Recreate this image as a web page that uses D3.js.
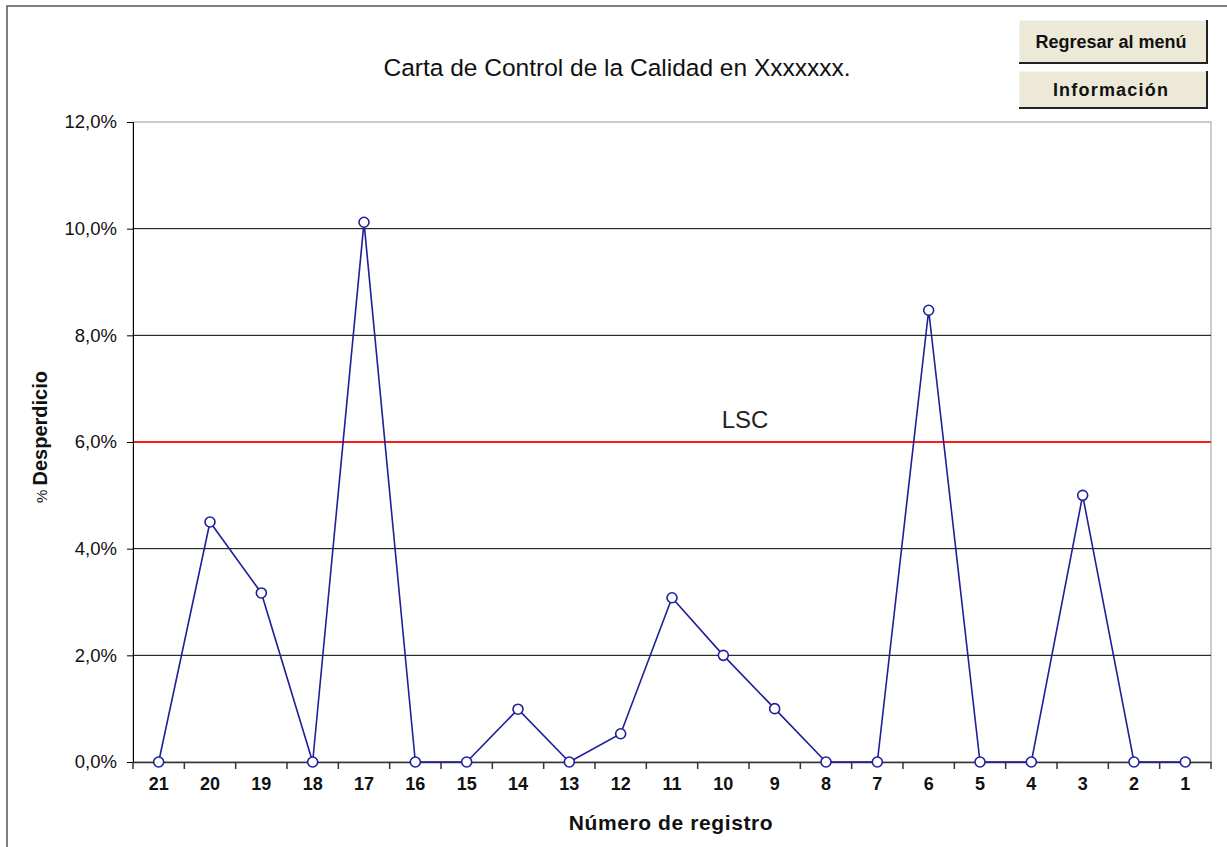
<!DOCTYPE html>
<html>
<head>
<meta charset="utf-8">
<script src="https://cdn.jsdelivr.net/npm/d3@7"></script>
<style>
  body { margin: 0; background: #fff; }
  svg { font-family: Arial, "Liberation Sans", sans-serif; }
</style>
</head>
<body>
<svg id="chart" width="1227" height="847"></svg>
<script>
// ----- DATA -----
var registros = ["21","20","19","18","17","16","15","14","13","12","11","10","9","8","7","6","5","4","3","2","1"];
var desperdicio = [0, 4.5, 3.17, 0, 10.12, 0, 0, 0.99, 0, 0.53, 3.08, 2.0, 1.0, 0, 0, 8.47, 0, 0, 5.0, 0, 0];
var yTicks = [0, 2, 4, 6, 8, 10, 12];
var lsc = 6;

var svg = d3.select("#chart");
var plotLeft = 133, plotRight = 1211, plotTop = 122, plotBottom = 762;

// outer frame
svg.append("rect")
    .attr("x", 7).attr("y", 6)
    .attr("width", 1240).attr("height", 860)
    .attr("fill", "none")
    .attr("stroke", "#555")
    .attr("stroke-width", 1.5);

var x = d3.scaleBand().domain(registros).range([plotLeft, plotRight]);
var y = d3.scaleLinear().domain([0, 12]).range([plotBottom, plotTop]);

// plot border (gray top/right)
svg.append("rect")
    .attr("x", plotLeft).attr("y", plotTop)
    .attr("width", plotRight - plotLeft).attr("height", plotBottom - plotTop)
    .attr("fill", "none")
    .attr("stroke", "#999")
    .attr("stroke-width", 1);

// gridlines
svg.append("g").selectAll("line")
    .data(yTicks.filter(function(d) { return d > 0 && d < 12 && d != lsc; }))
    .join("line")
    .attr("x1", plotLeft).attr("x2", plotRight)
    .attr("y1", function(d) { return y(d); })
    .attr("y2", function(d) { return y(d); })
    .attr("stroke", "#000")
    .attr("stroke-width", 1);

// LSC line
svg.append("line")
    .attr("x1", plotLeft).attr("x2", plotRight)
    .attr("y1", y(lsc)).attr("y2", y(lsc))
    .attr("stroke", "#ff1a1a")
    .attr("stroke-width", 2.2);

svg.append("text")
    .attr("x", 745).attr("y", y(lsc) - 14)
    .attr("text-anchor", "middle")
    .attr("font-size", 24)
    .attr("fill", "#222")
    .text("LSC");

// y axis
var yAxis = d3.axisLeft(y)
    .tickValues(yTicks)
    .tickSize(6)
    .tickPadding(10)
    .tickFormat(function(d) { return d.toFixed(1).replace(".", ",") + "%"; });
var gy = svg.append("g").attr("transform", "translate(" + plotLeft + ",0)").call(yAxis);
gy.select(".domain").attr("stroke", "#000");
gy.selectAll(".tick line").attr("stroke", "#000");
gy.selectAll("text")
    .attr("font-size", 18.5)
    .attr("font-family", "Arial, 'Liberation Sans', sans-serif")
    .attr("fill", "#111");

// x axis
var xAxis = d3.axisBottom(x).tickSize(0).tickPadding(15);
var gx = svg.append("g").attr("transform", "translate(0," + plotBottom + ")").call(xAxis);
gx.select(".domain").attr("stroke", "#333").attr("stroke-width", 1.5);
gx.selectAll("text")
    .attr("font-size", 18)
    .attr("font-weight", "bold")
    .attr("font-family", "Arial, 'Liberation Sans', sans-serif")
    .attr("fill", "#111");
// tick marks between categories
var edges = registros.map(function(r) { return x(r); }).concat([plotRight]);
gx.append("g").selectAll("line")
    .data(edges)
    .join("line")
    .attr("x1", function(d) { return d; }).attr("x2", function(d) { return d; })
    .attr("y1", 0).attr("y2", 7)
    .attr("stroke", "#333")
    .attr("stroke-width", 1.5);

// series
var pts = registros.map(function(r, i) { return { r: r, v: desperdicio[i] }; });
var line = d3.line()
    .x(function(d) { return x(d.r) + x.bandwidth() / 2; })
    .y(function(d) { return y(d.v); });

svg.append("path")
    .datum(pts)
    .attr("d", line)
    .attr("fill", "none")
    .attr("stroke", "#1f1f99")
    .attr("stroke-width", 1.6);

svg.append("g").selectAll("circle")
    .data(pts)
    .join("circle")
    .attr("cx", function(d) { return x(d.r) + x.bandwidth() / 2; })
    .attr("cy", function(d) { return y(d.v); })
    .attr("r", 5)
    .attr("fill", "#fff")
    .attr("stroke", "#1f1f99")
    .attr("stroke-width", 1.6);

// titles
svg.append("text")
    .attr("x", 617).attr("y", 76)
    .attr("text-anchor", "middle")
    .attr("font-size", 24.5)
    .attr("fill", "#111")
    .text("Carta de Control de la Calidad en Xxxxxxx.");

svg.append("text")
    .attr("x", 671).attr("y", 830)
    .attr("text-anchor", "middle")
    .attr("font-size", 21)
    .attr("font-weight", "bold")
    .attr("letter-spacing", 0.6)
    .attr("fill", "#111")
    .text("Número de registro");

var yt = svg.append("text")
    .attr("transform", "translate(47,437) rotate(-90)")
    .attr("text-anchor", "middle")
    .attr("fill", "#111");
yt.append("tspan").attr("font-size", 15).text("% ");
yt.append("tspan").attr("font-size", 20).attr("font-weight", "bold").text("Desperdicio");

// ----- BUTTONS -----
var buttons = [
    { label: "Regresar al menú", y: 20, h: 43, sp: 0 },
    { label: "Información", y: 71, h: 37, sp: 1.2 }
];
var bx = 1019, bw = 188;
var gb = svg.append("g").selectAll("g").data(buttons).join("g");
gb.append("rect")
    .attr("x", bx).attr("y", function(d) { return d.y; })
    .attr("width", bw).attr("height", function(d) { return d.h; })
    .attr("fill", "#ece9d8");
// shadow right/bottom
gb.append("path")
    .attr("d", function(d) {
        return "M" + (bx + bw) + "," + d.y + " L" + (bx + bw) + "," + (d.y + d.h) + " L" + bx + "," + (d.y + d.h);
    })
    .attr("fill", "none")
    .attr("stroke", "#222")
    .attr("stroke-width", 2);
// highlight top/left
gb.append("path")
    .attr("d", function(d) {
        return "M" + bx + "," + (d.y + d.h - 1) + " L" + bx + "," + d.y + " L" + (bx + bw - 1) + "," + d.y;
    })
    .attr("fill", "none")
    .attr("stroke", "#fff")
    .attr("stroke-width", 1);
gb.append("text")
    .attr("x", bx + bw / 2 - 2)
    .attr("y", function(d) { return d.y + d.h / 2 + 6; })
    .attr("text-anchor", "middle")
    .attr("font-size", 18)
    .attr("font-weight", "bold")
    .attr("letter-spacing", function(d) { return d.sp; })
    .attr("fill", "#111")
    .text(function(d) { return d.label; });
</script>
</body>
</html>
